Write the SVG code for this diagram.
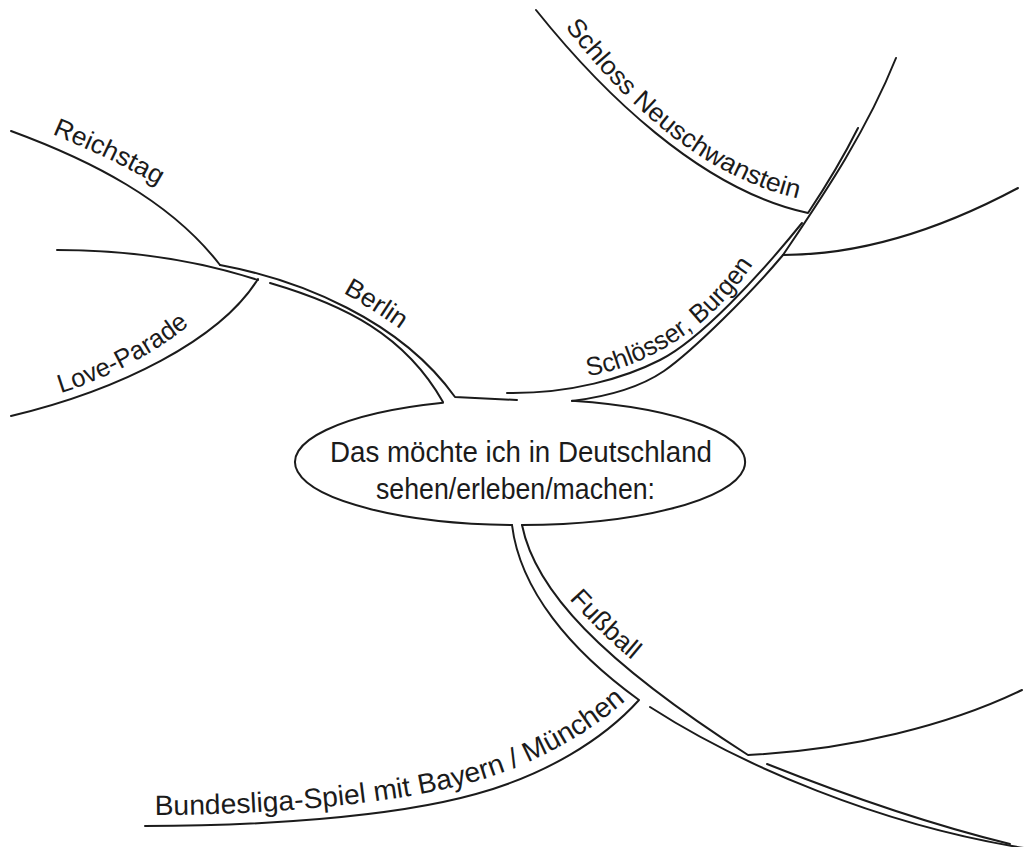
<svg xmlns="http://www.w3.org/2000/svg" width="1024" height="847" viewBox="0 0 1024 847">
<style>
.ln{fill:none;stroke:#1b1b1b;stroke-width:2;stroke-linecap:round;stroke-linejoin:round}
.tx{font-family:"Liberation Sans",Arial,sans-serif;font-size:26px;fill:#1b1b1b}
.ctr{font-size:30px}
</style>
<defs>
<path id="tp-reichstag" d="M52,134 C 90,150 130,168 166,190"/>
<path id="tp-berlin" d="M343,293 C 363,304 385,318 407,334"/>
<path id="tp-love" d="M61,393 C 100,381 158,354 197,318"/>
<path id="tp-neusch" d="M565,27 C 622,100 700,178 805,200"/>
<path id="tp-schloesser" d="M588,376 C 640,368 705,335 752,266"/>
<path id="tp-fussball" d="M569,599 C 590,622 613,645 642,668"/>
<path id="tp-bundes" d="M155,815 C 255,815 385,806 470,783 C 535,765 590,733 630,697"/>
</defs>
<rect width="1024" height="847" fill="#ffffff"/>
<g id="connectors">
<path class="ln" d="M11,131 C 90,160 170,200 220,265"/>
<path class="ln" d="M220,265 C 300,280 400,320 455,397 L 517,400"/>
<path class="ln" d="M270,283 C 345,305 405,335 443,402"/>
<path class="ln" d="M57,250 C 120,250 190,258 258,280"/>
<path class="ln" d="M258,279 C 220,340 120,390 11,416"/>
<path class="ln" d="M507,393 C 570,394 625,378 660,360 C 700,340 760,275 802,223"/>
<path class="ln" d="M572,401 C 612,396 642,386 664,371 C 694,350 752,292 783,255 C 820,200 865,135 896,58"/>
<path class="ln" d="M536,10 C 600,90 700,190 808,213 C 822,192 842,160 858,128"/>
<path class="ln" d="M783,255 C 850,255 930,235 1018,188"/>
<path class="ln" d="M512,525 C 520,590 570,650 639,700 C 603,740 545,775 476,794 C 390,818 255,826 145,826"/>
<path class="ln" d="M522,525 C 535,590 600,660 748,755 C 850,750 950,725 1022,690"/>
<path class="ln" d="M650,707 C 740,765 880,825 1024,848"/>
<path class="ln" d="M767,764 C 840,793 920,822 1010,844"/>
</g>
<g id="center">
<path class="ln" d="M443,402.8 A225,63 0 0 0 512,524.96"/>
<path class="ln" d="M522,525 A225,63 0 0 0 572,400.7"/>
<text class="tx ctr" x="330" y="462" textLength="382" lengthAdjust="spacingAndGlyphs">Das möchte ich in Deutschland</text>
<text class="tx ctr" x="376" y="499" textLength="279" lengthAdjust="spacingAndGlyphs">sehen/erleben/machen:</text>
</g>
<g id="berlin"><text class="tx"><textPath href="#tp-berlin" textLength="68" lengthAdjust="spacingAndGlyphs">Berlin</textPath></text></g>
<g id="reichstag"><text class="tx"><textPath href="#tp-reichstag" textLength="118" lengthAdjust="spacingAndGlyphs">Reichstag</textPath></text></g>
<g id="love-parade"><text class="tx"><textPath href="#tp-love" textLength="146" lengthAdjust="spacingAndGlyphs">Love-Parade</textPath></text></g>
<g id="schloesser"><text class="tx"><textPath href="#tp-schloesser" textLength="205" lengthAdjust="spacingAndGlyphs">Schlösser, Burgen</textPath></text></g>
<g id="neuschwanstein"><text class="tx"><textPath href="#tp-neusch" textLength="295" lengthAdjust="spacingAndGlyphs">Schloss Neuschwanstein</textPath></text></g>
<g id="fussball"><text class="tx"><textPath href="#tp-fussball" textLength="88" lengthAdjust="spacingAndGlyphs">Fußball</textPath></text></g>
<g id="bundesliga"><text class="tx" style="font-size:28px"><textPath href="#tp-bundes" textLength="495" lengthAdjust="spacingAndGlyphs">Bundesliga-Spiel mit Bayern / München</textPath></text></g>
</svg>
